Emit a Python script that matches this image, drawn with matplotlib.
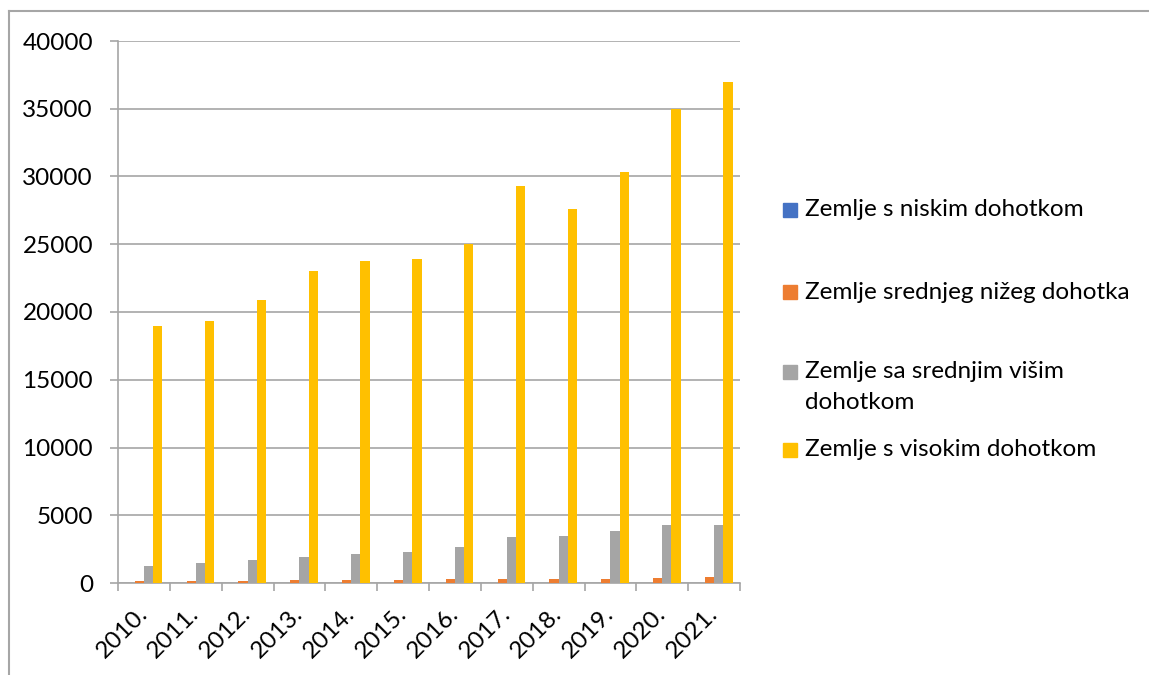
import numpy as np
import matplotlib
matplotlib.use("Agg")
import matplotlib.pyplot as plt
from matplotlib.lines import Line2D
from matplotlib.patches import Rectangle

plt.rcParams['font.family'] = ['Lato', 'DejaVu Sans']

years = ['2010.', '2011.', '2012.', '2013.', '2014.', '2015.',
         '2016.', '2017.', '2018.', '2019.', '2020.', '2021.']
series_names = ['Zemlje s niskim dohotkom',
                'Zemlje srednjeg nižeg dohotka',
                'Zemlje sa srednjim višim\ndohotkom',
                'Zemlje s visokim dohotkom']
low = [30, 30, 30, 30, 30, 30, 30, 30, 30, 30, 30, 30]
lower_mid = [150, 150, 150, 200, 250, 250, 270, 270, 320, 320, 390, 420]
upper_mid = [1250, 1450, 1700, 1920, 2160, 2310, 2680, 3400, 3500, 3820, 4280, 4280]
high = [19000, 19300, 20900, 23000, 23800, 23900, 25000, 29300, 27600, 30300, 35000, 37000]
colors = ['#4472C4', '#ED7D31', '#A5A5A5', '#FFC000']

grid_col = '#A6A6A6'
fs = 17.5

fig = plt.figure(figsize=(11.49, 6.75), dpi=100)
ax = fig.add_axes([118 / 1149, 1 - 583 / 675, (740 - 118) / 1149, (583 - 41) / 675])

x = np.arange(len(years))
w = 0.178
for i, vals in enumerate([low, lower_mid, upper_mid, high]):
    ax.bar(x + (i - 1.5) * w, vals, width=w, color=colors[i], zorder=3)

ax.set_xlim(-0.5, len(years) - 0.5)
ax.set_ylim(0, 40000)
ax.set_yticks(np.arange(0, 40001, 5000))
ax.yaxis.grid(True, color=grid_col, linewidth=1.2, zorder=0)
ax.set_xticks(x)
ax.set_xticklabels(years, rotation=45, ha='right', va='center', rotation_mode='anchor')
ax.set_xticks(np.arange(-0.5, len(years)), minor=True)
ax.tick_params(axis='x', which='major', length=0, pad=20, labelsize=fs)
ax.tick_params(axis='x', which='minor', length=6, color=grid_col, width=1.2)
ax.tick_params(axis='y', length=6, color=grid_col, width=1.2, pad=12, labelsize=fs)

for s in ['top', 'right']:
    ax.spines[s].set_visible(False)
for s in ['left', 'bottom']:
    ax.spines[s].set_color(grid_col)
    ax.spines[s].set_linewidth(1.2)

# legend drawn by hand to follow the spaced-out layout of the original
leg_y = [210, 292, 372, 450]
for name, col, yy in zip(series_names, colors, leg_y):
    fig.patches.append(Rectangle((783 / 1149, 1 - (yy + 7) / 675), 14 / 1149, 14 / 675,
                                 transform=fig.transFigure, color=col))
    if '\n' in name:
        fig.text(805 / 1149, 1 - (yy - 11) / 675, name, fontsize=fs, va='top', linespacing=1.6)
    else:
        fig.text(805 / 1149, 1 - yy / 675, name, fontsize=fs, va='center')

# outer chart border (top and left edges visible)
fig.add_artist(Line2D([9 / 1149, 1], [1 - 11 / 675, 1 - 11 / 675], color=grid_col, lw=1.5,
                      transform=fig.transFigure))
fig.add_artist(Line2D([9 / 1149, 9 / 1149], [0, 1 - 11 / 675], color=grid_col, lw=1.5,
                      transform=fig.transFigure))

fig.savefig('out.png', dpi=100)
